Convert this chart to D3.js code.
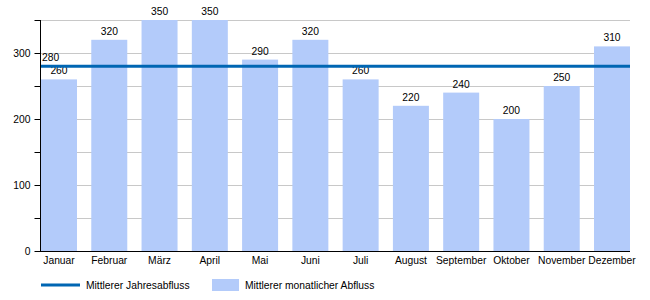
<!DOCTYPE html>
<html>
<head>
<meta charset="utf-8">
<script src="https://cdn.jsdelivr.net/npm/d3@7"></script>
<style>
  body { margin: 0; background: #fff; }
  text { font-family: "Liberation Sans", Arial, sans-serif; }
</style>
</head>
<body>
<script>
// monthly mean discharge
var months = ['Januar', 'Februar', 'März', 'April', 'Mai', 'Juni', 'Juli', 'August', 'September', 'Oktober', 'November', 'Dezember']
var flow = [260, 320, 350, 350, 290, 320, 260, 220, 240, 200, 250, 310]
var yearly = 280
var yTicks = [0, 100, 200, 300]
var yGrid = [50, 100, 150, 200, 250, 300, 350]
var legendLabels = ['Mittlerer Jahresabfluss', 'Mittlerer monatlicher Abfluss']

var width = 650, height = 300
var plotLeft = 40, plotRight = 630, plotTop = 20, plotBottom = 251
var barColor = '#b3cbfa', lineColor = '#0066b3'
var fs = '10.3px'

var svg = d3.select('body').append('svg').attr('width', width).attr('height', height)

var x = d3.scaleBand().domain(months).range([plotLeft + 1, plotRight]).paddingInner(0.284).paddingOuter(0)
var y = d3.scaleLinear().domain([0, 350]).range([plotBottom, plotTop])

// grid lines
svg.append('g').selectAll('line').data(yGrid).enter().append('line')
	.attr('x1', plotLeft).attr('x2', plotRight)
	.attr('y1', d => Math.round(y(d)) + 0.5).attr('y2', d => Math.round(y(d)) + 0.5)
	.attr('stroke', '#c8c8c8').attr('stroke-width', 1)

// bars
svg.append('g').selectAll('rect').data(flow).enter().append('rect')
	.attr('x', (d, i) => x(months[i]))
	.attr('y', d => y(d))
	.attr('width', x.bandwidth())
	.attr('height', d => plotBottom - y(d))
	.attr('fill', barColor)

svg.append('g').selectAll('text').data(flow).enter().append('text')
	.attr('x', (d, i) => x(months[i]) + x.bandwidth() / 2)
	.attr('y', d => y(d) - 5)
	.attr('text-anchor', 'middle').attr('font-size', fs).attr('fill', '#000')
	.text(d => d)

// yearly mean line
svg.append('line')
	.attr('x1', plotLeft).attr('x2', plotRight)
	.attr('y1', y(yearly)).attr('y2', y(yearly))
	.attr('stroke', lineColor).attr('stroke-width', 3)
svg.append('text').attr('x', plotLeft + 2).attr('y', y(yearly) - 5)
	.attr('font-size', fs).attr('fill', '#000').text(yearly)

// y axis
var yAxis = svg.append('g').attr('transform', 'translate(' + (plotLeft + 0.5) + ',0)')
yAxis.append('line').attr('x1', 0).attr('x2', 0).attr('y1', plotTop).attr('y2', plotBottom + 0.5).attr('stroke', '#000')
yAxis.selectAll('.tick').data(yGrid.concat([0])).enter().append('line')
	.attr('x1', -6).attr('x2', 0)
	.attr('y1', d => Math.round(y(d)) + 0.5).attr('y2', d => Math.round(y(d)) + 0.5)
	.attr('stroke', '#000')
yAxis.selectAll('text').data(yTicks).enter().append('text')
	.attr('x', -10).attr('y', d => y(d) + 4)
	.attr('text-anchor', 'end').attr('font-size', fs).attr('fill', '#000')
	.text(d => d)

// x axis
svg.append('line').attr('x1', plotLeft).attr('x2', plotRight).attr('y1', plotBottom + 0.5).attr('y2', plotBottom + 0.5).attr('stroke', '#000')
svg.append('g').selectAll('text').data(months).enter().append('text')
	.attr('x', d => x(d) + x.bandwidth() / 2)
	.attr('y', plotBottom + 13)
	.attr('text-anchor', 'middle').attr('font-size', fs).attr('fill', '#000')
	.text(d => d)

// legend
var lg = svg.append('g')
lg.append('line').attr('x1', 41).attr('x2', 80).attr('y1', 285).attr('y2', 285).attr('stroke', lineColor).attr('stroke-width', 3)
lg.append('text').attr('x', 86).attr('y', 289).attr('font-size', fs).attr('fill', '#000').text(legendLabels[0])
lg.append('rect').attr('x', 212).attr('y', 279).attr('width', 27).attr('height', 12).attr('fill', barColor)
lg.append('text').attr('x', 245).attr('y', 289).attr('font-size', fs).attr('fill', '#000').text(legendLabels[1])
</script>
</body>
</html>
